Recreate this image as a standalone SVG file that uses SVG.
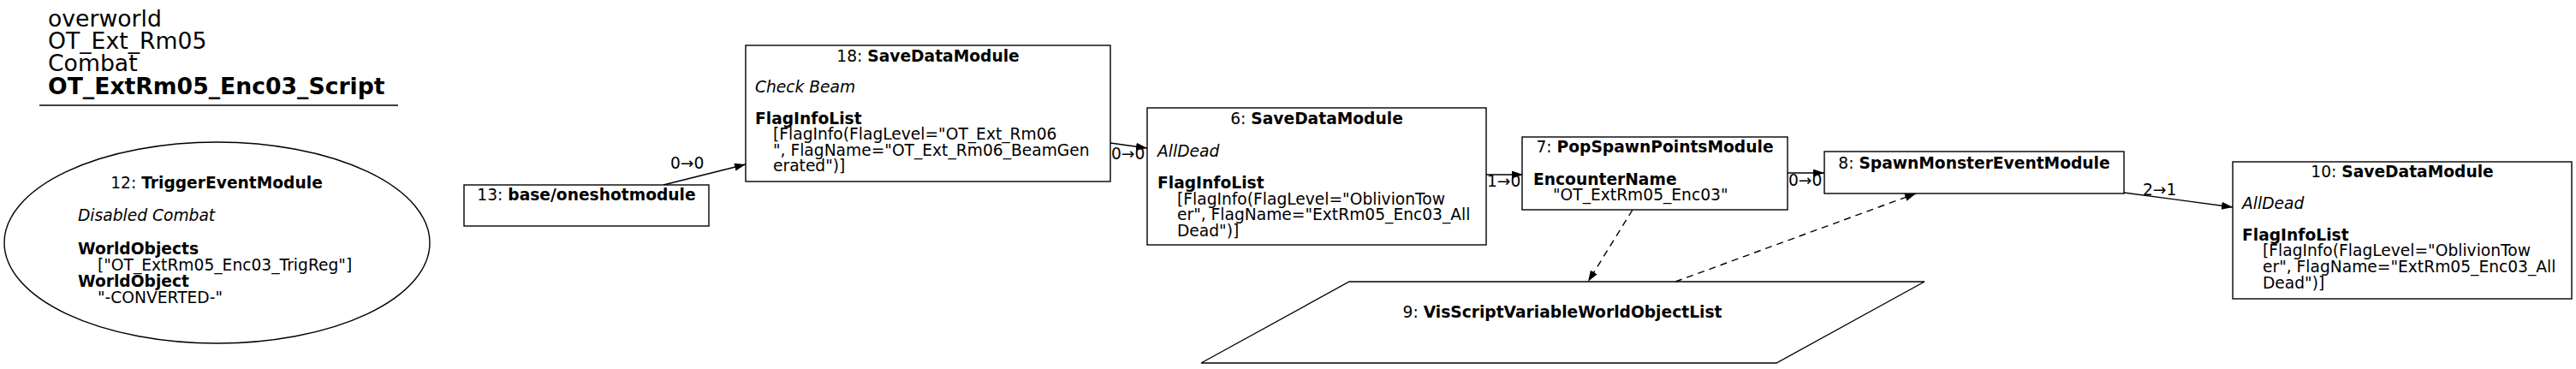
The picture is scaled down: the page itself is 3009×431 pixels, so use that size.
<svg xmlns="http://www.w3.org/2000/svg" width="3009" height="431" viewBox="0 0 3009 431">
<style>
text{font-family:"DejaVu Sans","Liberation Sans",sans-serif;font-size:18.67px;fill:#000}
.t{font-size:26.67px}
.b{font-weight:bold}
.i{font-style:italic}
.m{text-anchor:middle}
.n{fill:#fff;stroke:#000;stroke-width:1.4}
.e{fill:none;stroke:#000;stroke-width:1.4}
.d{stroke-dasharray:8,6}
</style>
<defs>
<marker id="ah" markerUnits="userSpaceOnUse" markerWidth="14" markerHeight="10" refX="13" refY="4.5" orient="auto">
<path d="M0,0 L13,4.5 L0,9 z" fill="#000"/>
</marker>
</defs>
<rect width="3009" height="431" fill="#fff"/>
<g id="title">
<text class="t" x="56" y="31">overworld</text>
<text class="t" x="56" y="57">OT_Ext_Rm05</text>
<text class="t" x="56" y="83">Combat</text>
<text class="t b" x="56" y="110">OT_ExtRm05_Enc03_Script</text>
<line x1="46" y1="123" x2="465" y2="123" stroke="#000" stroke-width="1.4"/>
</g>
<g id="connectors">
<path class="e" d="M775,216 L871,192" marker-end="url(#ah)"/>
<text x="783" y="197">0→0</text>
<path class="e" d="M1297,167 L1340,173" marker-end="url(#ah)"/>
<text x="1298" y="186">0→0</text>
<path class="e" d="M1736,204 L1779,204" marker-end="url(#ah)"/>
<text x="1737" y="218">1→0</text>
<path class="e" d="M2088,202 L2131,202" marker-end="url(#ah)"/>
<text x="2089" y="217">0→0</text>
<path class="e" d="M2481,225 L2608,242" marker-end="url(#ah)"/>
<text x="2503" y="228">2→1</text>
<path class="e d" d="M1907,245 L1855,329" marker-end="url(#ah)"/>
<path class="e d" d="M1957,329 L2238,226" marker-end="url(#ah)"/>
</g>
<g id="node12">
<ellipse class="n" cx="253.5" cy="283.5" rx="248.5" ry="117.5"/>
<text class="m" x="253" y="220">12: <tspan class="b">TriggerEventModule</tspan></text>
<text class="i" x="91" y="258">Disabled Combat</text>
<text class="b" x="91" y="297">WorldObjects</text>
<text x="114" y="316">["OT_ExtRm05_Enc03_TrigReg"]</text>
<text class="b" x="91" y="335">WorldObject</text>
<text x="114" y="354">"-CONVERTED-"</text>
</g>
<g id="node13">
<rect class="n" x="542" y="216" width="286" height="48"/>
<text class="m" x="685" y="234">13: <tspan class="b">base/oneshotmodule</tspan></text>
</g>
<g id="node18">
<rect class="n" x="871" y="53" width="426" height="159"/>
<text class="m" x="1084" y="72">18: <tspan class="b">SaveDataModule</tspan></text>
<text class="i" x="882" y="108">Check Beam</text>
<text class="b" x="882" y="145">FlagInfoList</text>
<text x="903" y="163">[FlagInfo(FlagLevel="OT_Ext_Rm06</text>
<text x="903" y="182">", FlagName="OT_Ext_Rm06_BeamGen</text>
<text x="903" y="200">erated")]</text>
</g>
<g id="node6">
<rect class="n" x="1340" y="126" width="396" height="160"/>
<text class="m" x="1538" y="145">6: <tspan class="b">SaveDataModule</tspan></text>
<text class="i" x="1352" y="183">AllDead</text>
<text class="b" x="1352" y="220">FlagInfoList</text>
<text x="1375" y="239">[FlagInfo(FlagLevel="OblivionTow</text>
<text x="1375" y="257">er", FlagName="ExtRm05_Enc03_All</text>
<text x="1375" y="276">Dead")]</text>
</g>
<g id="node7">
<rect class="n" x="1778" y="160" width="310" height="85"/>
<text class="m" x="1933" y="178">7: <tspan class="b">PopSpawnPointsModule</tspan></text>
<text class="b" x="1791" y="216">EncounterName</text>
<text x="1814" y="234">"OT_ExtRm05_Enc03"</text>
</g>
<g id="node8">
<rect class="n" x="2131" y="177" width="350" height="49"/>
<text class="m" x="2306" y="197">8: <tspan class="b">SpawnMonsterEventModule</tspan></text>
</g>
<g id="node9">
<polygon class="n" points="1576,329 2248,329 2075,424 1403,424"/>
<text class="m" x="1825" y="371">9: <tspan class="b">VisScriptVariableWorldObjectList</tspan></text>
</g>
<g id="node10">
<rect class="n" x="2608" y="189" width="396" height="160"/>
<text class="m" x="2806" y="207">10: <tspan class="b">SaveDataModule</tspan></text>
<text class="i" x="2619" y="244">AllDead</text>
<text class="b" x="2619" y="281">FlagInfoList</text>
<text x="2643" y="299">[FlagInfo(FlagLevel="OblivionTow</text>
<text x="2643" y="318">er", FlagName="ExtRm05_Enc03_All</text>
<text x="2643" y="337">Dead")]</text>
</g>
</svg>
